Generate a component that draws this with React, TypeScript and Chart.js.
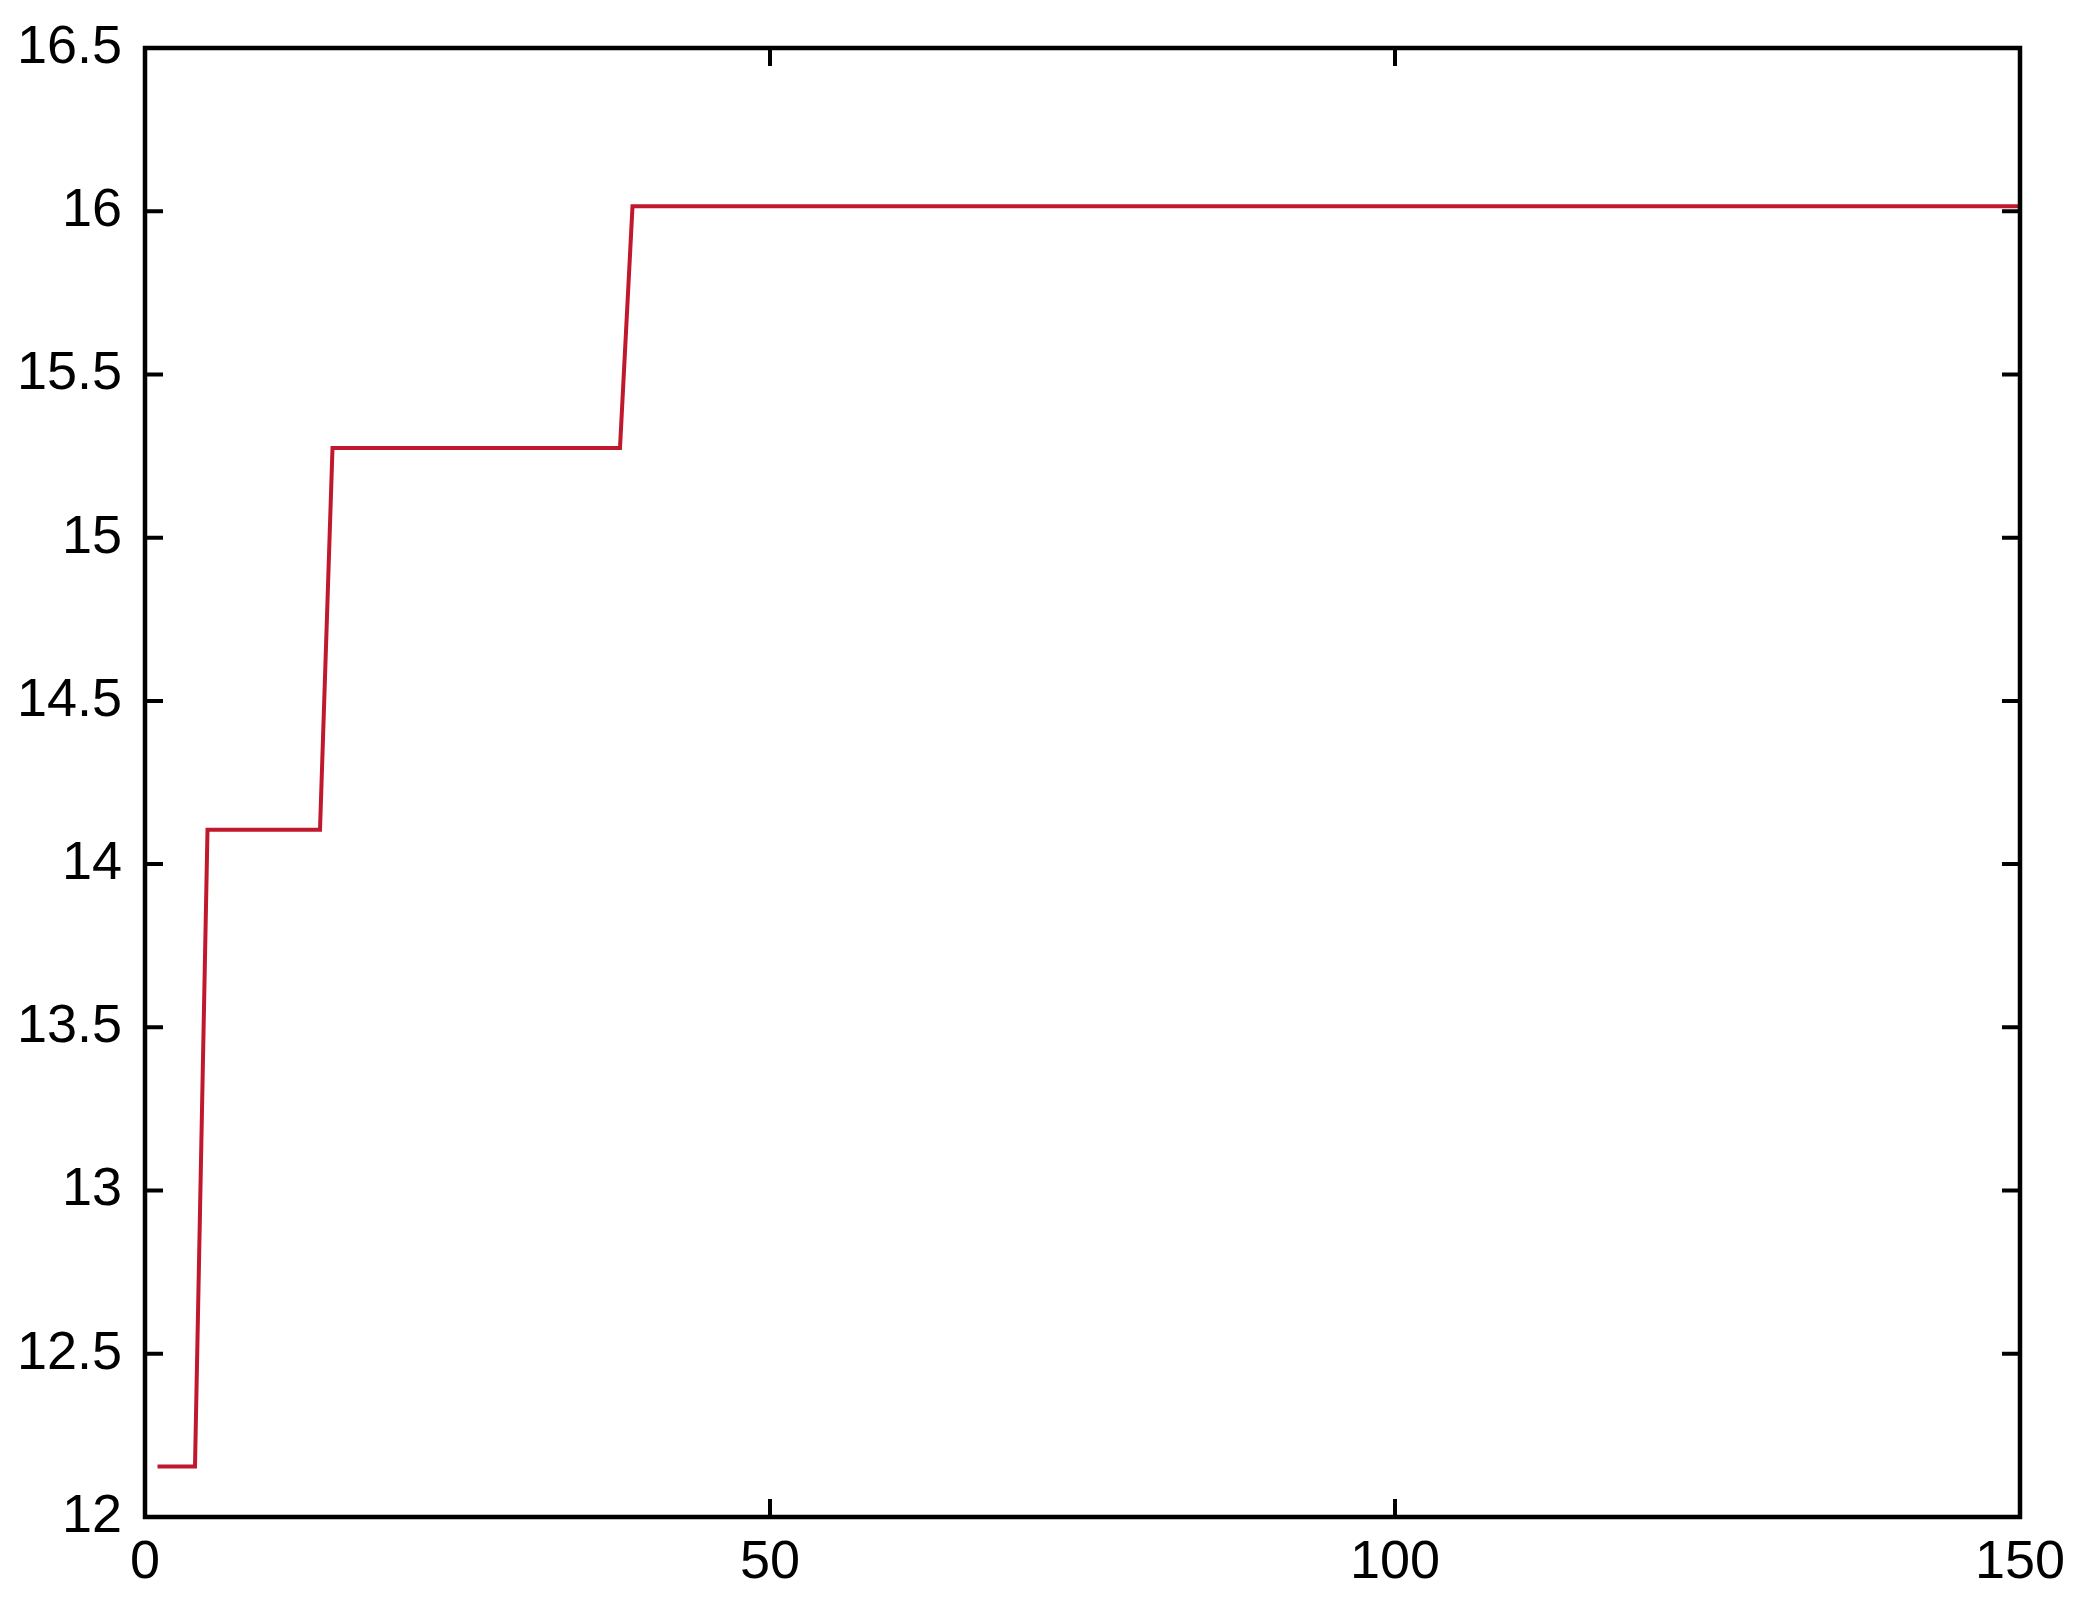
import React, { useEffect, useRef } from "react";
import { Chart, registerables } from "chart.js";

Chart.register(...registerables);

// Generation (x) breakpoints and best fitness (y)
const generations = [1, 4, 5, 14, 15, 38, 39, 150];
const fitness = [12.155, 12.155, 14.105, 14.105, 15.275, 15.275, 16.015, 16.015];

const xTickValues = [0, 50, 100, 150];
const yTickValues = [12, 12.5, 13, 13.5, 14, 14.5, 15, 15.5, 16, 16.5];

const FONT = "'Liberation Sans', Arial, sans-serif";

const framePlugin = {
  id: "matlabFrame",
  afterDraw(chart: any) {
    const { ctx, chartArea } = chart;
    const xs = chart.scales.x;
    const ys = chart.scales.y;
    const { left, right, top, bottom } = chartArea;
    const tick = 18;
    ctx.save();
    ctx.strokeStyle = "#000";
    ctx.lineWidth = 4.5;
    ctx.lineCap = "butt";
    ctx.beginPath();
    ctx.rect(left, top, right - left, bottom - top);
    ctx.stroke();
    ctx.lineWidth = 4;
    ctx.beginPath();
    for (const t of xs.ticks) {
      const px = xs.getPixelForValue(t.value);
      ctx.moveTo(px, bottom);
      ctx.lineTo(px, bottom - tick);
      ctx.moveTo(px, top);
      ctx.lineTo(px, top + tick);
    }
    for (const t of ys.ticks) {
      const py = ys.getPixelForValue(t.value);
      ctx.moveTo(left, py);
      ctx.lineTo(left + tick, py);
      ctx.moveTo(right, py);
      ctx.lineTo(right - tick, py);
    }
    ctx.stroke();
    ctx.restore();
  },
};

export default function App() {
  const ref = useRef<HTMLCanvasElement | null>(null);

  useEffect(() => {
    document.body.style.margin = "0";
    document.body.style.overflow = "hidden";
    const canvas = ref.current;
    if (!canvas) return;
    const chart = new Chart(canvas, {
      type: "line",
      data: {
        datasets: [
          {
            data: generations.map((g, i) => ({ x: g, y: fitness[i] })),
            borderColor: "#c0182c",
            borderWidth: 4,
            pointRadius: 0,
            fill: false,
            tension: 0,
          },
        ],
      },
      options: {
        responsive: false,
        animation: false,
        events: [],
        layout: { padding: { top: 48, right: 60, bottom: 0, left: 0 } },
        plugins: {
          legend: { display: false },
          tooltip: { enabled: false },
        },
        scales: {
          x: {
            type: "linear",
            min: 0,
            max: 150,
            afterBuildTicks: (scale: any) => {
              scale.ticks = xTickValues.map((v) => ({ value: v }));
            },
            afterFit: (scale: any) => {
              scale.height = 87;
              scale.paddingLeft = 0;
              scale.paddingRight = 0;
            },
            grid: { display: false, drawTicks: false },
            border: { display: false },
            ticks: {
              padding: 14,
              color: "#000",
              maxRotation: 0,
              autoSkip: false,
              font: { family: FONT, size: 54 },
              callback: (v: any) => String(v),
            },
          },
          y: {
            type: "linear",
            min: 12,
            max: 16.5,
            afterBuildTicks: (scale: any) => {
              scale.ticks = yTickValues.map((v) => ({ value: v }));
            },
            afterFit: (scale: any) => {
              scale.width = 145;
              scale.paddingTop = 0;
              scale.paddingBottom = 0;
            },
            grid: { display: false, drawTicks: false },
            border: { display: false },
            ticks: {
              padding: 23,
              color: "#000",
              autoSkip: false,
              font: { family: FONT, size: 54 },
              callback: (v: any) => String(v),
            },
          },
        },
      },
      plugins: [framePlugin],
    });
    return () => chart.destroy();
  }, []);

  return (
    <div style={{ position: "absolute", left: 0, top: 0, width: 2080, height: 1604, background: "#fff" }}>
      <canvas ref={ref} width={2080} height={1604} style={{ display: "block", width: 2080, height: 1604 }} />
    </div>
  );
}
